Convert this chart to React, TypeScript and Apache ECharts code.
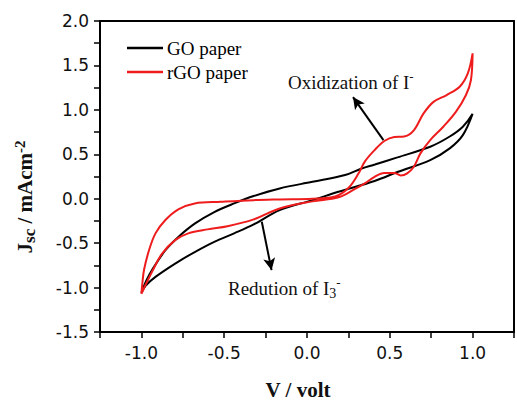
import React, { useEffect, useRef } from "react";
import * as echarts from "echarts";

// GO paper: closed CV loop (upper branch -1 -> 1, then lower branch 1 -> -1)
const goV = [
  -1.0, -0.97, -0.935, -0.855, -0.777, -0.678, -0.56, -0.44, -0.322, -0.165, 0.033, 0.23, 0.33, 0.41, 0.546, 0.744, 0.862, 0.941, 1.0,
  0.941, 0.862, 0.744, 0.546, 0.408, 0.19, 0.033, -0.165, -0.322, -0.44, -0.56, -0.678, -0.796, -0.915, -0.975, -1.0,
];
const goJ = [
  -1.06, -0.92, -0.8, -0.58, -0.43, -0.28, -0.15, -0.053, 0.03, 0.116, 0.19, 0.266, 0.34, 0.385, 0.465, 0.585, 0.7, 0.81, 0.955,
  0.716, 0.567, 0.435, 0.3, 0.2, 0.078, -0.016, -0.128, -0.29, -0.39, -0.485, -0.6, -0.73, -0.88, -0.98, -1.06,
];

// rGO paper: closed CV loop
const rgoV = [
  -1.0, -0.994, -0.984, -0.954, -0.915, -0.855, -0.777, -0.678, -0.52, -0.322, -0.165, 0.033, 0.17, 0.25, 0.31, 0.35, 0.408, 0.467, 0.527, 0.586, 0.645, 0.704, 0.764, 0.843, 0.922, 0.971, 1.0,
  0.99, 0.96, 0.9, 0.823, 0.744, 0.685, 0.645, 0.605, 0.566, 0.527, 0.467, 0.408, 0.349, 0.29, 0.19, 0.033, -0.165, -0.322, -0.48, -0.6, -0.717, -0.796, -0.876, -0.935, -1.0,
];
const rgoJ = [
  -1.07, -0.95, -0.8, -0.58, -0.39, -0.24, -0.12, -0.053, -0.035, -0.016, -0.008, 0.0, 0.025, 0.12, 0.28, 0.42, 0.547, 0.65, 0.695, 0.7, 0.77, 0.96, 1.09, 1.167, 1.26, 1.41, 1.636,
  1.336, 1.167, 0.98, 0.81, 0.66, 0.51, 0.36, 0.285, 0.262, 0.29, 0.29, 0.247, 0.172, 0.11, 0.015, -0.03, -0.11, -0.233, -0.31, -0.345, -0.39, -0.466, -0.62, -0.82, -1.07,
];

// annotation arrows [fromV, fromJ, toV, toJ]
const oxidArrow = [0.4615, 0.66, 0.2778, 1.144];
const redArrow = [-0.273, -0.26, -0.214, -0.804];

const seriesNames = ["GO paper", "rGO paper"];
const seriesColors = ["#000000", "#ee1c1c"];

const xRange = [-1.25, 1.25];
const yRange = [-1.5, 2.0];

function pairs(xs: number[], ys: number[]) {
  return xs.map((x, i) => [x, ys[i]]);
}

const halfLabel = (v: number) =>
  Math.abs(v * 2 - Math.round(v * 2)) < 1e-6 ? v.toFixed(1) : "";

export default function App() {
  const ref = useRef<HTMLDivElement>(null);
  useEffect(() => {
    document.body.style.margin = "0";
    const chart = echarts.init(ref.current!, undefined, { renderer: "svg" });
    const serif = "Liberation Serif";
    const tickFont = { fontFamily: "DejaVu Sans", fontSize: 17, color: "#111" };
    const legendItems = seriesNames.map((name, i) => ({
      type: "group",
      x: 127,
      y: 48 + i * 24,
      children: [
        { type: "line", shape: { x1: 0, y1: 0, x2: 36, y2: 0 }, style: { stroke: seriesColors[i], lineWidth: 2.5 } },
        {
          type: "text",
          x: 40,
          y: 0,
          style: { text: name, fontFamily: serif, fontSize: 19, fill: "#000", verticalAlign: "middle" },
        },
      ],
    }));
    chart.setOption({
      animation: false,
      backgroundColor: "#fff",
      textStyle: { fontFamily: serif },
      grid: { left: 100, top: 21, width: 422, height: 311 },
      xAxis: [
        {
          type: "value",
          min: xRange[0],
          max: xRange[1],
          interval: 0.25,
          axisLine: { show: true, onZero: false, lineStyle: { color: "#000", width: 2 } },
          axisTick: { show: true, inside: false, length: 6, lineStyle: { color: "#000", width: 1.5 } },
          axisLabel: { ...tickFont, margin: 12, formatter: halfLabel },
          splitLine: { show: false },
        },
        {
          type: "value",
          position: "top",
          min: xRange[0],
          max: xRange[1],
          axisLine: { show: true, onZero: false, lineStyle: { color: "#000", width: 2 } },
          axisTick: { show: false },
          axisLabel: { show: false },
          splitLine: { show: false },
        },
      ],
      yAxis: [
        {
          type: "value",
          min: yRange[0],
          max: yRange[1],
          interval: 0.25,
          axisLine: { show: true, onZero: false, lineStyle: { color: "#000", width: 2 } },
          axisTick: { show: true, inside: false, length: 6, lineStyle: { color: "#000", width: 1.5 } },
          axisLabel: { ...tickFont, margin: 11, formatter: halfLabel },
          splitLine: { show: false },
        },
        {
          type: "value",
          position: "right",
          min: yRange[0],
          max: yRange[1],
          axisLine: { show: true, onZero: false, lineStyle: { color: "#000", width: 2 } },
          axisTick: { show: false },
          axisLabel: { show: false },
          splitLine: { show: false },
        },
      ],
      series: [
        {
          name: seriesNames[0],
          type: "line",
          data: pairs(goV, goJ),
          symbol: "none",
          smooth: 0.35,
          lineStyle: { color: seriesColors[0], width: 2 },
          itemStyle: { color: seriesColors[0] },
          markLine: {
            silent: true,
            symbol: ["none", "arrow"],
            symbolSize: [9, 12],
            label: { show: false },
            lineStyle: { color: "#000", width: 2, type: "solid" },
            data: [
              [{ coord: [oxidArrow[0], oxidArrow[1]] }, { coord: [oxidArrow[2], oxidArrow[3]] }],
              [{ coord: [redArrow[0], redArrow[1]] }, { coord: [redArrow[2], redArrow[3]] }],
            ],
          },
        },
        {
          name: seriesNames[1],
          type: "line",
          data: pairs(rgoV, rgoJ),
          symbol: "none",
          smooth: 0.35,
          lineStyle: { color: seriesColors[1], width: 2 },
          itemStyle: { color: seriesColors[1] },
        },
      ],
      graphic: [
        ...legendItems,
        {
          type: "text",
          left: 288,
          top: 70,
          style: {
            text: "{a|Oxidization of I}{p|-}",
            rich: {
              a: { fontFamily: serif, fontSize: 19, lineHeight: 24, fill: "#111" },
              p: { fontFamily: serif, fontSize: 13, lineHeight: 13, verticalAlign: "top", fill: "#111" },
            },
          },
        },
        {
          type: "text",
          left: 228,
          top: 276,
          style: {
            text: "{a|Redution of I}{b|3}{p|-}",
            rich: {
              a: { fontFamily: serif, fontSize: 19, lineHeight: 24, fill: "#111" },
              b: { fontFamily: serif, fontSize: 14, lineHeight: 14, verticalAlign: "bottom", fill: "#111" },
              p: { fontFamily: serif, fontSize: 13, lineHeight: 13, verticalAlign: "top", fill: "#111" },
            },
          },
        },
        {
          type: "text",
          x: 298,
          y: 390,
          style: {
            text: "V / volt",
            fontFamily: serif,
            fontWeight: "bold",
            fontSize: 21,
            fill: "#111",
            align: "center",
            verticalAlign: "middle",
          },
        },
        {
          type: "text",
          x: 25,
          y: 197,
          rotation: Math.PI / 2,
          style: {
            text: "{a|J}{b|sc}{a| / mAcm}{p|-2}",
            align: "center",
            verticalAlign: "middle",
            rich: {
              a: { fontFamily: serif, fontWeight: "bold", fontSize: 21, lineHeight: 26, fill: "#111" },
              b: { fontFamily: serif, fontWeight: "bold", fontSize: 17, lineHeight: 17, verticalAlign: "bottom", fill: "#111" },
              p: { fontFamily: serif, fontWeight: "bold", fontSize: 15, lineHeight: 15, verticalAlign: "top", fill: "#111" },
            },
          },
        },
      ],
    });
    return () => chart.dispose();
  }, []);
  return <div ref={ref} style={{ width: 517, height: 401 }} />;
}
